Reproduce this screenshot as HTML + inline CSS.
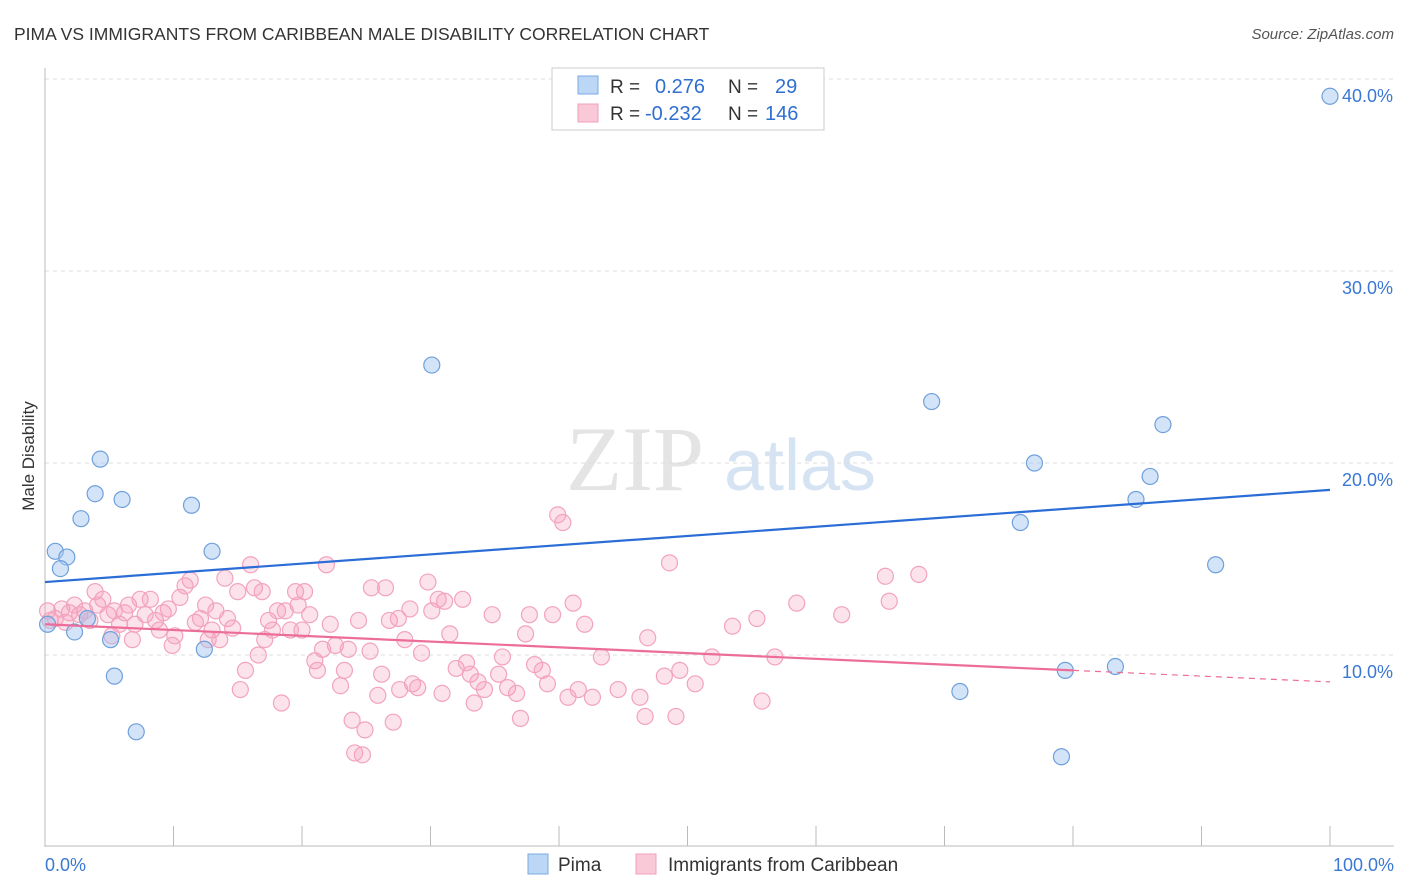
<!DOCTYPE html>
<html><head><meta charset="utf-8"><style>
body{margin:0;background:#fff;font-family:"Liberation Sans",sans-serif}
svg{display:block}
</style></head><body>
<svg id="chart" width="1406" height="892" xmlns="http://www.w3.org/2000/svg">
<text x="14" y="40" font-size="17.5" fill="#333">PIMA VS IMMIGRANTS FROM CARIBBEAN MALE DISABILITY CORRELATION CHART</text>
<text x="1394" y="39" font-size="15" fill="#555" font-style="italic" text-anchor="end">Source: ZipAtlas.com</text>
<text x="34" y="456" font-size="17" fill="#333" text-anchor="middle" transform="rotate(-90 34 456)">Male Disability</text>
<g><text x="635" y="490" font-size="92" fill="#e4e4e4" text-anchor="middle" font-family="Liberation Serif,serif">ZIP</text><text x="800" y="490" font-size="72" fill="#d6e3f3" text-anchor="middle">atlas</text></g>
<g id="grid"></g><g id="axes"></g><g id="pts"></g><g id="trends"></g>
<g>
<rect x="552" y="68" width="272" height="62" fill="#fff" stroke="#ccc"/>
<rect x="578" y="76" width="20" height="18" fill="#bcd6f5" stroke="#7aaae0"/>
<rect x="578" y="104" width="20" height="18" fill="#f9c9d8" stroke="#f0a0bb"/>
<text font-size="19" fill="#333"><tspan x="610" y="93">R =</tspan><tspan x="610" y="120">R =</tspan><tspan x="728" y="93">N =</tspan><tspan x="728" y="120">N =</tspan></text>
<text font-size="20" fill="#2f6fd0"><tspan x="655" y="93">0.276</tspan><tspan x="645" y="120">-0.232</tspan><tspan x="775" y="93">29</tspan><tspan x="765" y="120">146</tspan></text>
</g>
<g>
<rect x="528" y="854" width="20" height="20" fill="#bcd6f5" stroke="#7aaae0"/>
<text x="558" y="871" font-size="19" fill="#333">Pima</text>
<rect x="636" y="854" width="20" height="20" fill="#f9c9d8" stroke="#f0a0bb"/>
<text x="668" y="871" font-size="19" fill="#333">Immigrants from Caribbean</text>
</g>
</svg>
<script>
const yTicks=[10,20,30,40];
const yTickLabels=["10.0%","20.0%","30.0%","40.0%"];
const xTickLabels=["0.0%","100.0%"];
const pimaX=[100,30.1,69.0,87.0,4.3,77.0,86.0,3.9,6.0,11.4,2.8,75.9,84.9,0.8,13.0,1.7,1.2,91.1,0.2,3.3,2.3,5.1,12.4,79.4,83.3,5.4,71.2,7.1,79.1];
const pimaY=[39.1,25.1,23.2,22.0,20.2,20.0,19.3,18.4,18.1,17.8,17.1,16.9,18.1,15.4,15.4,15.1,14.5,14.7,11.6,11.9,11.2,10.8,10.3,9.2,9.4,8.9,8.1,6.0,4.7];
const caribX=[0.2,0.4,0.8,1.3,1.6,1.9,2.3,2.7,3.1,3.5,3.9,4.1,4.5,4.9,5.2,5.4,5.8,6.2,6.5,6.8,7.0,7.4,7.8,8.2,8.6,8.9,9.2,9.6,9.9,10.1,10.5,10.9,11.3,11.7,12.1,12.5,12.7,13.0,13.3,13.6,14.0,14.2,14.6,15.0,15.2,15.6,16.0,16.3,16.6,16.9,17.1,17.4,17.7,18.1,18.4,18.7,19.1,19.5,19.7,20.0,20.2,20.6,21.0,21.2,21.6,21.9,22.2,22.6,23.0,23.3,23.6,23.9,24.1,24.4,24.7,24.9,25.3,25.4,25.9,26.2,26.5,26.8,27.1,27.5,27.6,28.0,28.4,28.6,29.0,29.3,29.8,30.1,30.6,30.9,31.1,31.5,32.0,32.5,32.8,33.1,33.4,33.7,34.2,34.8,35.3,35.6,36.0,36.7,37.0,37.4,37.7,38.1,38.7,39.1,39.5,39.9,40.3,40.7,41.1,41.5,42.0,42.6,43.3,44.6,46.3,46.7,46.9,48.2,48.6,49.1,49.4,50.6,51.9,53.5,55.4,55.8,56.8,58.5,62.0,65.4,65.7,68.0];
const caribY=[12.3,11.8,11.9,12.4,11.7,12.2,12.6,12.1,12.3,11.8,13.3,12.6,12.9,12.1,11.0,12.3,11.6,12.2,12.6,10.8,11.6,12.9,12.1,12.9,11.8,11.3,12.2,12.4,10.5,11.0,13.0,13.6,13.9,11.7,11.9,12.6,10.8,11.3,12.3,10.8,14.0,11.9,11.4,13.3,8.2,9.2,14.7,13.5,10.0,13.3,10.8,11.8,11.3,12.3,7.5,12.3,11.3,13.3,12.6,11.3,13.3,12.1,9.7,9.2,10.3,14.7,11.6,10.5,8.4,9.2,10.3,6.6,4.9,11.8,4.8,6.1,10.2,13.5,7.9,9.0,13.5,11.8,6.5,11.9,8.2,10.8,12.4,8.5,8.3,10.1,13.8,12.3,12.9,8.0,12.8,11.1,9.3,12.9,9.6,9.0,7.5,8.6,8.2,12.1,9.0,9.9,8.3,8.0,6.7,11.1,12.1,9.5,9.2,8.5,12.1,17.3,16.9,7.8,12.7,8.2,11.6,7.8,9.9,8.2,7.8,6.8,10.9,8.9,14.8,6.8,9.2,8.5,9.9,11.5,11.9,7.6,9.9,12.7,12.1,14.1,12.8,14.2];
const pimaTrend=[13.8,18.6];
const caribTrend=[11.6,8.6];
const X0=45,X1=1330,Y0=847,PY=19.2;
const sx=v=>X0+(X1-X0)*v/100, sy=v=>Y0-v*PY;
const NS="http://www.w3.org/2000/svg";
function mk(t,a,p){const e=document.createElementNS(NS,t);for(const k in a)e.setAttribute(k,a[k]);p.appendChild(e);return e;}
const grid=document.getElementById('grid'),axes=document.getElementById('axes');
yTicks.forEach((t,i)=>{
 const g=mk('line',{x1:45,x2:1394,y1:sy(t),y2:sy(t),stroke:'#ddd','stroke-dasharray':'4,4'},grid);
 
 
 const l=mk('text',{x:1393,y:sy(t)+23,'font-size':18,fill:'#3a78d4','text-anchor':'end'},axes);
 l.textContent=yTickLabels[i];
 
 
});
mk('line',{x1:45,x2:45,y1:68,y2:847,stroke:'#bbb'},axes);
mk('line',{x1:45,x2:1394,y1:846,y2:846,stroke:'#bbb'},axes);
for(let i=0;i<=10;i++){const t=mk('line',{x1:sx(i*10),x2:sx(i*10),y1:826,y2:846,stroke:'#bbb'},axes);
 
 }
[[0,'start',45],[100,'end',1394]].forEach((d,i)=>{const l=mk('text',{x:d[2],y:871,'font-size':18,fill:'#3a78d4','text-anchor':d[1]},axes);l.textContent=xTickLabels[i];
 
 });
const pts=document.getElementById('pts');
caribX.forEach((x,i)=>{const c=mk('circle',{cx:sx(x),cy:sy(caribY[i]),r:8,fill:'rgba(244,160,190,0.3)',stroke:'#f2a3bd','stroke-width':1.2},pts);
 
 });
pimaX.forEach((x,i)=>{const c=mk('circle',{cx:sx(x),cy:sy(pimaY[i]),r:8,fill:'rgba(160,196,240,0.45)',stroke:'#6fa0dc','stroke-width':1.2},pts);
 
 });
const tr=document.getElementById('trends');
const pl=mk('line',{x1:sx(0),y1:sy(pimaTrend[0]),x2:sx(100),y2:sy(pimaTrend[1]),stroke:'#2a6dd6','stroke-width':2.2},tr);


const cy=x=>caribTrend[0]+(caribTrend[1]-caribTrend[0])*x/100;
const c1=mk('line',{x1:sx(0),y1:sy(cy(0)),x2:sx(80),y2:sy(cy(80)),stroke:'#ec6d98','stroke-width':2.2},tr);


const c2=mk('line',{x1:sx(80),y1:sy(cy(80)),x2:sx(100),y2:sy(cy(100)),stroke:'#ec6d98','stroke-width':1.2,'stroke-dasharray':'6,5'},tr);


</script>
</body></html>
